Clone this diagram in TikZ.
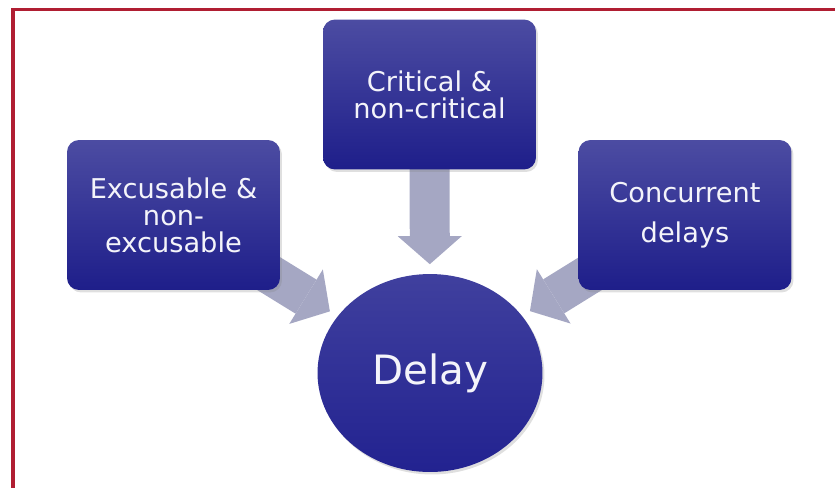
\documentclass[tikz,border=0pt]{standalone}
\usepackage{fontspec}
\newfontfamily\diagfont{DejaVu Sans}
\usetikzlibrary{shapes.geometric, arrows.meta, backgrounds, shadows}
\usepackage{xcolor}
\definecolor{Frame}{HTML}{B01E32}
\definecolor{BoxTop}{HTML}{4C4CA2}
\definecolor{BoxBot}{HTML}{1E1E8A}
\definecolor{HubTop}{HTML}{40409E}
\definecolor{HubBot}{HTML}{222290}
\definecolor{Flow}{HTML}{A5A7C3}
\definecolor{Label}{HTML}{F4F4FA}

\begin{document}
\begin{tikzpicture}[x=0.02cm, y=-0.02cm,
            cat/.style={rectangle, rounded corners=0.24cm, top color=BoxTop, bottom color=BoxBot, minimum width=4.26cm, minimum height=3cm, align=center, text=Label, font=\diagfont\fontsize{15.5}{15.4}\selectfont, drop shadow={opacity=0.25, shadow xshift=0.04cm, shadow yshift=-0.05cm}},
            hub/.style={ellipse, top color=HubTop, bottom color=HubBot, minimum width=4.5cm, minimum height=3.96cm, text=Label, font=\diagfont\fontsize{23}{26}\selectfont, drop shadow={opacity=0.25, shadow xshift=0.04cm, shadow yshift=-0.05cm}},
            flow/.style={-{Triangle[width=1.28cm, length=0.56cm, line width=0pt]}, line width=0.8cm, draw=Flow}
        ]
            \useasboundingbox (0,0) rectangle (835,488);

            % Frame
            \draw[Frame, line width=0.07cm] (12,9.5) -- (835,9.5);
            \draw[Frame, line width=0.07cm] (13,8) -- (13,488);

            % Delay types
            \node[cat] (excuse) at (173.5,215) {Excusable \&\\non-\\excusable};
            \node[cat] (crit) at (429.5,94.5) {Critical \&\\non-critical};
            \node[cat] (concur) at (685,215) {Concurrent\\[0.26cm]delays};

            % Central node
            \node[hub] (delay) at (430,373) {Delay};

            % Arrows into delay
            \begin{scope}[on background layer]
                \draw[flow, shorten >=0.18cm] (excuse.center) -- (delay);
                \draw[flow, shorten >=0.19cm] (crit.center) -- (delay);
                \draw[flow, shorten >=0.18cm] (concur.center) -- (delay);
            \end{scope}
        \end{tikzpicture}
\end{document}
